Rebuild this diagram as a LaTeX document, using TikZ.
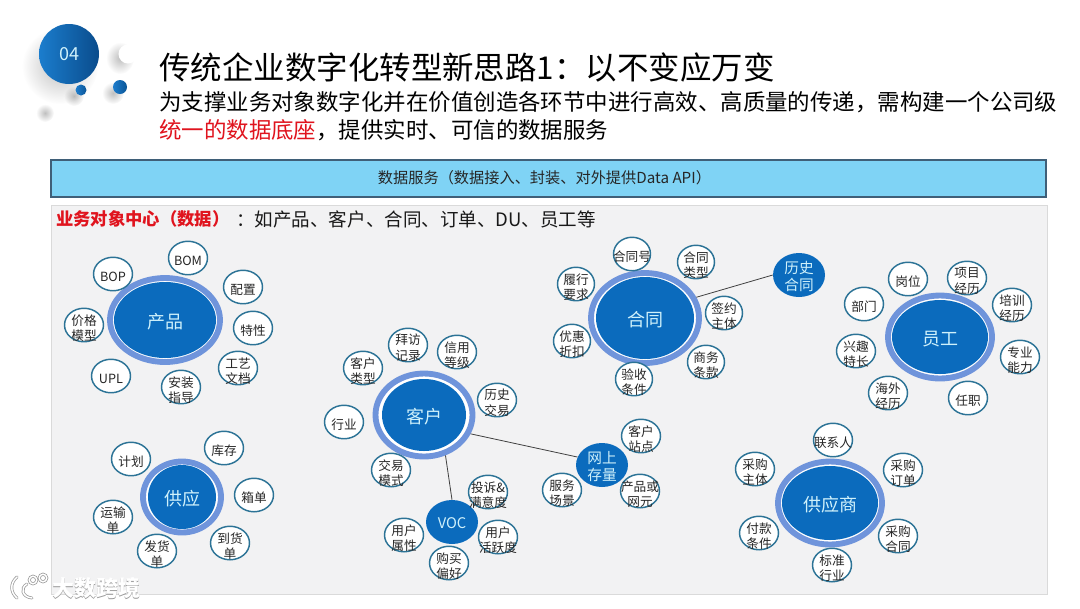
\documentclass[tikz,border=0pt]{standalone}
\usepackage{fontspec}
\setmainfont{Noto Sans CJK SC}
\usetikzlibrary{shapes.geometric,fadings}
\newlength{\px}\setlength{\px}{0.75pt}
\definecolor{hubdark}{HTML}{0B6BBD}
\definecolor{hubring}{HTML}{6F94DB}
\definecolor{hubtext}{HTML}{CFF1FB}
\definecolor{satline}{HTML}{2C7396}
\definecolor{barfill}{HTML}{7FD3F5}
\definecolor{barline}{HTML}{3F5F78}
\definecolor{panelfill}{HTML}{F2F2F3}
\definecolor{panelline}{HTML}{DADADA}
\definecolor{alert}{HTML}{E0141E}
\definecolor{wmline}{HTML}{9A9A9A}
\definecolor{ballL}{HTML}{1B7DCD}
\definecolor{ballR}{HTML}{0A4C8C}
\definecolor{dotL}{HTML}{1E7DCD}
\definecolor{dotR}{HTML}{0A5596}
\tikzfading[name=softfade,inner color=transparent!0,outer color=transparent!100]
\tikzset{
  x=0.75pt,y=-0.75pt,
  satlabel/.style={font=\fontsize{9.5}{11.6}\selectfont,align=center,text=black!85,inner sep=0pt,yshift=-2.2pt},
  sat/.style={ellipse,draw=satline,line width=1.1pt,fill=white,inner sep=0pt,minimum width=39\px,minimum height=33.5\px,label={[satlabel]center:#1}},
  ringb/.style={ellipse,draw=hubring,line width=4.4pt,fill=white,inner sep=0pt},
  corelabel/.style={text=hubtext,inner sep=0pt,font=\fontsize{13.5}{16}\selectfont,yshift=-1.5pt},
  core/.style={ellipse,fill=hubdark,inner sep=0pt,label={[corelabel]center:#1}},
  minilabel/.style={text=hubtext,align=center,inner sep=0pt,font=\fontsize{11}{13}\selectfont,yshift=-1pt},
  minihub/.style={ellipse,fill=hubdark,inner sep=0pt,minimum width=52\px,minimum height=44\px,label={[minilabel]center:#1}},
  link/.style={draw=black!75,line width=0.6pt},
  titlet/.style={anchor=west,inner sep=0pt,font=\fontsize{23.6}{28}\selectfont},
  subt/.style={anchor=west,inner sep=0pt,font=\fontsize{16.84}{20}\selectfont},
  softshadow/.style={fill=gray,path fading=softfade,opacity=.5},
  wmt/.style={inner sep=0pt,font=\fontsize{16.5}{18}\bfseries\selectfont},
  wmgray/.style={draw=wmline,line width=2.2pt,line cap=round},
  wmwhite/.style={draw=white,line width=1.1pt,line cap=round},
  ball/.style={circle,inner sep=0pt,left color=ballL,right color=ballR},
  smalldot/.style={circle,inner sep=0pt,left color=dotL,right color=dotR}
}
\begin{document}
\begin{tikzpicture}
\useasboundingbox (0,0) rectangle (1080,608);
\fill[white] (0,0) rectangle (1080,608);
% badge
\fill[softshadow] (60,66) ellipse (38 and 38);
\fill[softshadow] (120,58) ellipse (14 and 16);
\fill[softshadow] (74,96) ellipse (10 and 10);
\fill[softshadow] (113,93) ellipse (11 and 11);
\fill[softshadow] (45,113) ellipse (9 and 9);
\node[ball,minimum size=60\px,text=hubtext,font=\fontsize{13.5}{16}\selectfont] (badge) at (69,54) {04};
\node[circle,fill=white,minimum size=19\px,inner sep=0pt] (dotw) at (128,54) {};
\node[smalldot,minimum size=11\px] (dota) at (81,90) {};
\node[smalldot,minimum size=14\px] (dotb) at (120,87) {};
% titles
\node[titlet] (title) at (159,68) {传统企业数字化转型新思路1：以不变应万变};
\node[subt] (sub1) at (159,102) {为支撑业务对象数字化并在价值创造各环节中进行高效、高质量的传递，需构建一个公司级};
\node[subt] (sub2) at (159,130) {\textcolor{alert}{统一的数据底座}，提供实时、可信的数据服务};
% bar
\node[draw=barline,line width=1pt,fill=barfill,minimum width=995\px,minimum height=37\px,inner sep=0pt] (bar) at (548.5,178.5) {};
\node[inner sep=0pt,font=\fontsize{11.4}{14}\selectfont,text=black!85] (bartext) at (544.5,178) {数据服务（数据接入、封装、对外提供Data API）};
% panel
\node[draw=panelline,line width=.6pt,fill=panelfill,minimum width=996\px,minimum height=389\px,inner sep=0pt] (panel) at (549,399.5) {};
\node[anchor=west,inner sep=0pt,text=alert,font=\fontsize{13}{16}\bfseries\selectfont] (head) at (56,219) {业务对象中心（数据）};
\node[anchor=west,inner sep=0pt,text=black!90,font=\fontsize{13.9}{16}\selectfont] (headb) at (236,219) {：如产品、客户、合同、订单、DU、员工等};
% product
\node[ringb,minimum width=110\px,minimum height=84\px] (cpr) at (165,320) {};
\node[core={产品},minimum width=102\px,minimum height=76\px] (cp) at (165,320) {};
\node[sat={BOM}] (cp1) at (188,258) {};
\node[sat={BOP}] (cp2) at (113,274) {};
\node[sat={配置}] (cp3) at (243,287) {};
\node[sat={特性}] (cp4) at (253,328) {};
\node[sat={工艺\\文档}] (cp5) at (238,368) {};
\node[sat={安装\\指导}] (cp6) at (181,387) {};
\node[sat={UPL}] (cp7) at (111,376) {};
\node[sat={价格\\模型}] (cp8) at (84,325) {};
% customer
\node[ringb,minimum width=97\px,minimum height=83\px] (khr) at (424,415) {};
\node[core={客户},minimum width=84\px,minimum height=72\px] (kh) at (424,415) {};
\node[sat={拜访\\记录}] (kh1) at (408,345) {};
\node[sat={信用\\等级}] (kh2) at (457,352) {};
\node[sat={客户\\类型}] (kh3) at (363,368) {};
\node[sat={历史\\交易}] (kh4) at (497,400) {};
\node[sat={行业}] (kh5) at (344,422) {};
\node[sat={交易\\模式}] (kh6) at (391,470) {};
% VOC
\node[minihub={VOC}] (voc) at (452,522) {};
\node[sat={投诉\&\\满意度}] (voc1) at (488,492) {};
\node[sat={用户\\活跃度}] (voc2) at (498,537) {};
\node[sat={用户\\属性}] (voc3) at (404,535) {};
\node[sat={购买\\偏好}] (voc4) at (449,563) {};
% online stock
\node[minihub={网上\\存量}] (wl) at (602,465) {};
\node[sat={客户\\站点}] (wl1) at (641,436) {};
\node[sat={产品或\\网元}] (wl2) at (640,491) {};
\node[sat={服务\\场景}] (wl3) at (562,490) {};
% contract
\node[ringb,minimum width=108\px,minimum height=90\px] (htr) at (645,318) {};
\node[core={合同},minimum width=98\px,minimum height=82\px] (ht) at (645,318) {};
\node[sat={合同号},minimum width=37\px] (ht1) at (632,254) {};
\node[sat={合同\\类型},minimum width=37\px] (ht2) at (696,262) {};
\node[sat={履行\\要求},minimum width=37\px] (ht3) at (576,284) {};
\node[sat={签约\\主体},minimum width=37\px] (ht4) at (724,313) {};
\node[sat={优惠\\折扣},minimum width=37\px] (ht5) at (572,341) {};
\node[sat={商务\\条款},minimum width=37\px] (ht6) at (706,362) {};
\node[sat={验收\\条件},minimum width=37\px] (ht7) at (634,379) {};
\node[minihub={历史\\合同}] (lsht) at (799,275) {};
% staff
\node[ringb,minimum width=104\px,minimum height=83\px] (ygr) at (940,337) {};
\node[core={员工},minimum width=96\px,minimum height=74\px] (yg) at (940,337) {};
\node[sat={岗位}] (yg1) at (908,279) {};
\node[sat={项目\\经历}] (yg2) at (967,278) {};
\node[sat={培训\\经历}] (yg3) at (1012,305) {};
\node[sat={部门}] (yg4) at (864,304) {};
\node[sat={兴趣\\特长}] (yg5) at (856,351) {};
\node[sat={专业\\能力}] (yg6) at (1020,357) {};
\node[sat={海外\\经历}] (yg7) at (888,393) {};
\node[sat={任职}] (yg8) at (968,398) {};
% vendor
\node[ringb,minimum width=104\px,minimum height=83\px] (gysr) at (830,503) {};
\node[core={供应商},minimum width=96\px,minimum height=74\px] (gys) at (830,503) {};
\node[sat={联系人}] (gys1) at (833,440) {};
\node[sat={采购\\主体}] (gys2) at (755,469) {};
\node[sat={采购\\订单}] (gys3) at (903,470) {};
\node[sat={付款\\条件}] (gys4) at (759,533) {};
\node[sat={采购\\合同}] (gys5) at (898,536) {};
\node[sat={标准\\行业}] (gys6) at (832,565) {};
% supply
\node[ringb,minimum width=78\px,minimum height=71\px] (gyr) at (182,497) {};
\node[core={供应},minimum width=68\px,minimum height=64\px] (gy) at (182,497) {};
\node[sat={计划}] (gy1) at (131,459) {};
\node[sat={库存}] (gy2) at (224,448) {};
\node[sat={箱单}] (gy3) at (254,495) {};
\node[sat={运输\\单}] (gy4) at (113,517) {};
\node[sat={到货\\单}] (gy5) at (230,543) {};
\node[sat={发货\\单}] (gy6) at (157,551) {};
% connectors
\draw[link] (khr.-62) -- (voc.90);
\draw[link] (khr.-22) -- (wl.162);
\draw[link] (htr.22) -- (lsht.180);
% watermark
\draw[wmgray] (17,577) .. controls (10,583) and (10,592) .. (17,598);
\draw[wmgray] (27,584) .. controls (20,588) and (22,597) .. (32,598);
\draw[wmgray] (33,580) circle (3.8);
\draw[wmgray] (43,578) circle (3.8);
\draw[wmwhite] (17,577) .. controls (10,583) and (10,592) .. (17,598);
\draw[wmwhite] (27,584) .. controls (20,588) and (22,597) .. (32,598);
\draw[wmwhite] (33,580) circle (3.8);
\draw[wmwhite] (43,578) circle (3.8);
\node[wmt,text=wmline] (wmb) at (96.7,589) {大数跨境};
\node[wmt,text=white] (wmf) at (96,588) {大数跨境};
\end{tikzpicture}
\end{document}
